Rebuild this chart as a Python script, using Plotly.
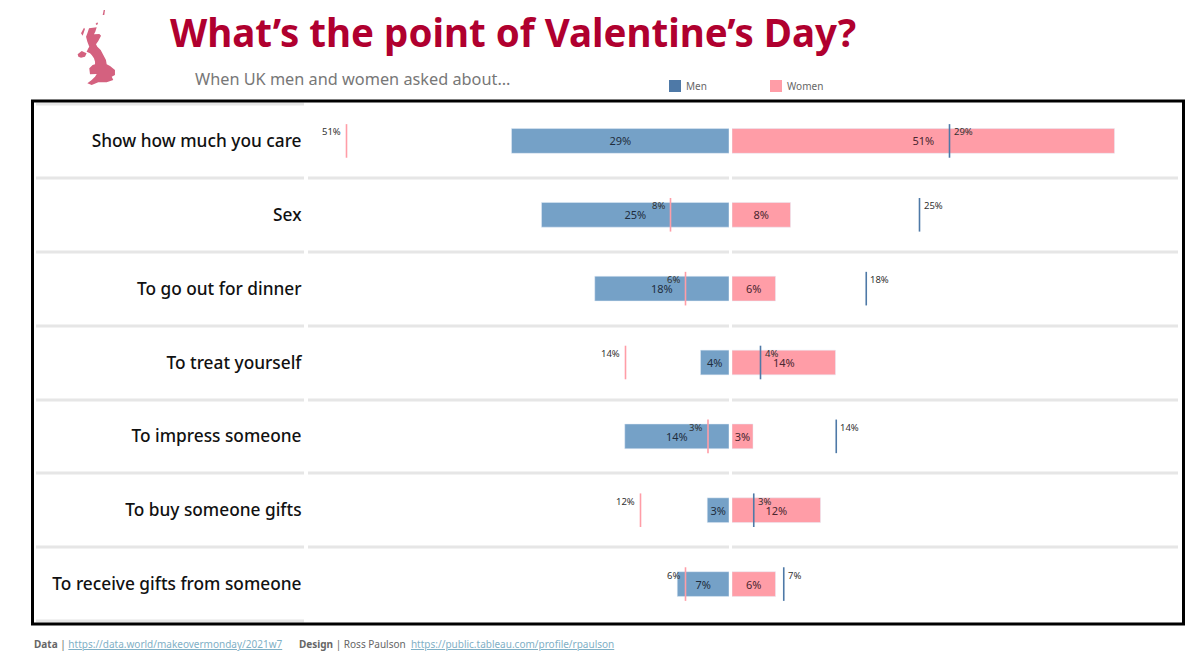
import plotly.graph_objects as go

W, H = 1200, 666

categories = ["Show how much you care", "Sex", "To go out for dinner", "To treat yourself",
              "To impress someone", "To buy someone gifts", "To receive gifts from someone"]
men = [29, 25, 17.9, 3.8, 13.9, 2.9, 6.9]
women = [51, 7.8, 5.8, 13.8, 2.8, 11.8, 5.8]

BLUE, BLUE_LIGHT, PINK = "#4e79a7", "#75a1c7", "#ff9da7"
GREY = "#e6e6e6"
FONT = "Noto Sans"


def px(x):
    return x / W


def py(y):
    return 1 - y / H


def pct(values):
    return [f"{round(v)}%" for v in values]


fig = go.Figure()
fig.add_bar(y=categories, x=men, orientation="h", marker_color=BLUE_LIGHT, width=0.335, xaxis="x", yaxis="y",
            text=pct(men), textposition="inside", insidetextanchor="middle", constraintext="none",
            textangle=0, textfont=dict(size=11, color="#1f2d3d", family=FONT), showlegend=False)
fig.add_bar(y=categories, x=women, orientation="h", marker_color=PINK, width=0.335, xaxis="x2", yaxis="y",
            text=pct(women), textposition="inside", insidetextanchor="middle", constraintext="none",
            textangle=0, textfont=dict(size=11, color="#4a2630", family=FONT), showlegend=False)
# Reference ticks: women's value on the men's side and vice versa
fig.add_scatter(y=categories, x=women, mode="markers", xaxis="x", yaxis="y", showlegend=False,
                marker=dict(symbol="line-ns", size=24, line=dict(color=PINK, width=1.6)))
fig.add_scatter(y=categories, x=men, mode="markers", xaxis="x2", yaxis="y", showlegend=False,
                marker=dict(symbol="line-ns", size=24, line=dict(color=BLUE, width=1.6)))

annotations = []
for c, m, w in zip(categories, men, women):
    annotations.append(dict(x=w, y=c, xref="x", yref="y", text=f"{round(w)}%", showarrow=False, xanchor="right",
                            yanchor="middle", xshift=-4, yshift=9, font=dict(size=9.5, color="#333333", family=FONT)))
    annotations.append(dict(x=m, y=c, xref="x2", yref="y", text=f"{round(m)}%", showarrow=False, xanchor="left",
                            yanchor="middle", xshift=2, yshift=9, font=dict(size=9.5, color="#333333", family=FONT)))


def txt(x, y, text, size, color, weight="normal"):
    annotations.append(dict(x=px(x), y=py(y), xref="paper", yref="paper", text=text, showarrow=False,
                            xanchor="left", yanchor="middle", font=dict(size=size, color=color, family=FONT,
                                                                        weight=weight)))


LINK = "#7fb0c6"
txt(168, 32, "What’s the point of Valentine’s Day?", 38.5, "#b0002f", "bold")
txt(193, 79, "When UK men and women asked about…", 16.3, "#777777")
txt(684, 86, "Men", 10, "#666666")
txt(785, 86, "Women", 10, "#666666")
txt(32, 644, f"<b>Data</b> | <span style='color:{LINK}'><u>https://data.world/makeovermonday/2021w7</u></span>", 10, "#666666")
txt(297, 644, f"<b>Design</b> | Ross Paulson  <span style='color:{LINK}'><u>https://public.tableau.com/profile/rpaulson</u></span>", 10, "#666666")

shapes = [dict(type="rect", xref="paper", yref="paper", x0=px(32.5), x1=px(1183.5), y0=py(101), y1=py(624),
               line=dict(color="black", width=3), layer="above")]
for x0, color in ((669, BLUE), (770, PINK)):
    shapes.append(dict(type="rect", xref="paper", yref="paper", x0=px(x0), x1=px(x0 + 12), y0=py(80), y1=py(92),
                       fillcolor=color, line_width=0))


def hline(x0, x1, y):
    shapes.append(dict(type="line", xref="paper", yref="paper", x0=px(x0), x1=px(x1), y0=py(y), y1=py(y),
                       line=dict(color=GREY, width=3), layer="below"))


hline(36, 304, 104)
hline(36, 304, 621)
for y in [178, 252, 326, 400, 473, 547]:
    hline(36, 304, y)
    hline(308, 729, y)
    hline(732, 1178, y)

# UK silhouette, traced at 3x from the crop whose corner is (70, 5)
shetland = [(98, 30), (101, 15), (105, 15), (103, 30)]
orkney = [(77, 56), (82, 52), (84, 57), (79, 60)]
hebrides = [(33, 85), (42, 68), (45, 72), (38, 92)]
main = [(57, 70), (80, 67), (76, 80), (72, 88), (88, 87), (93, 92), (85, 108), (78, 118), (82, 125), (92, 135),
        (100, 150), (108, 165), (110, 178), (120, 183), (135, 195), (135, 210), (125, 215), (130, 225), (110, 232),
        (85, 232), (65, 240), (52, 235), (65, 225), (75, 215), (80, 207), (60, 208), (58, 190), (68, 180), (75, 178),
        (75, 170), (72, 160), (65, 150), (60, 145), (50, 140), (55, 130), (58, 125), (52, 110), (48, 95), (52, 85)]
ni = [(23, 148), (35, 138), (50, 145), (45, 155), (33, 158), (25, 155)]


def path(pts):
    return "M" + " L".join(f"{px(70 + x / 3):.4f},{py(5 + y / 3):.4f}" for x, y in pts) + " Z"


for pts in (shetland, orkney, hebrides, main, ni):
    shapes.append(dict(type="path", xref="paper", yref="paper", path=path(pts), fillcolor="#d4617f", line_width=0))

fig.update_layout(
    width=W, height=H, margin=dict(l=0, r=0, t=0, b=0), autosize=False, barmode="overlay",
    paper_bgcolor="white", plot_bgcolor="white", font=dict(family=FONT), showlegend=False,
    xaxis=dict(domain=[px(308), px(729)], range=[421 / 7.5, 0], visible=False, fixedrange=True),
    xaxis2=dict(domain=[px(732), px(1178)], range=[0, 446 / 7.5], visible=False, fixedrange=True),
    yaxis=dict(domain=[py(621), py(104)], categoryorder="array", categoryarray=categories, autorange=False,
               range=[6.5, -0.5], anchor="x", side="left", showgrid=False, zeroline=False, showline=False,
               ticks="outside", ticklen=2, tickcolor="rgba(0,0,0,0)",
               tickfont=dict(size=17.3, color="#111111", family=FONT, weight=500)),
    annotations=annotations, shapes=shapes,
)
fig.write_html("out.html", post_script="document.body.style.margin='0';", config=dict(displayModeBar=False))
